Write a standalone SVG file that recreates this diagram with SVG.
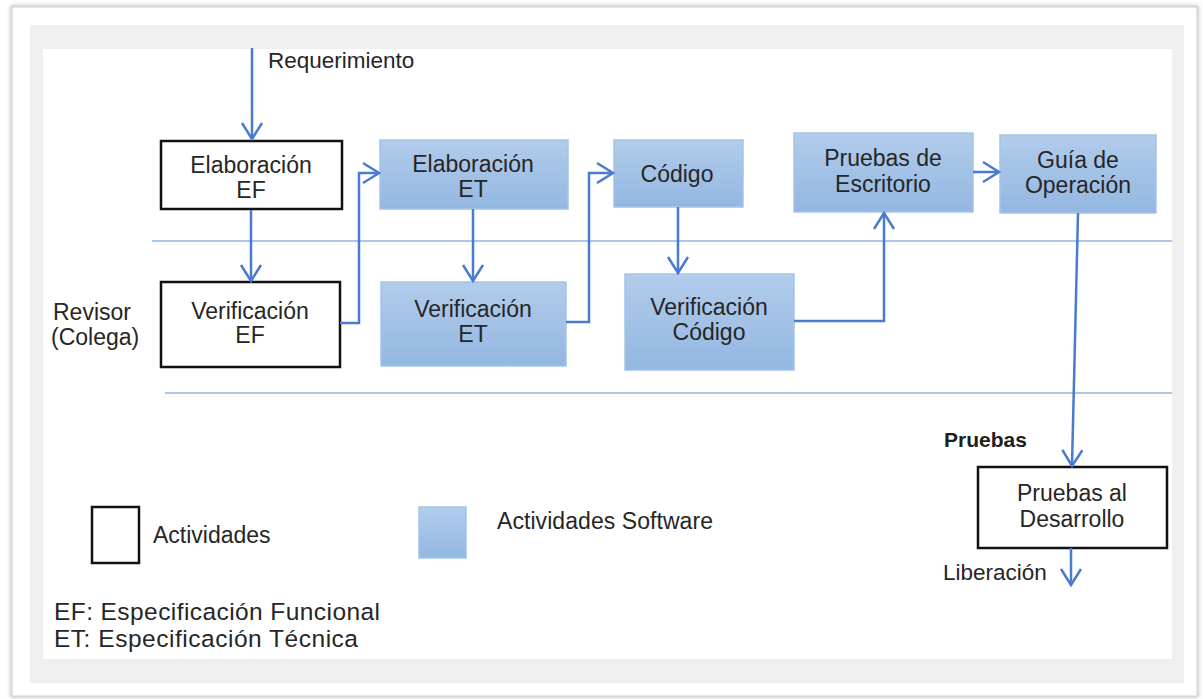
<svg xmlns="http://www.w3.org/2000/svg" width="1203" height="699" viewBox="0 0 1203 699">
<defs>
<linearGradient id="blueGrad" x1="0" y1="0" x2="0" y2="1">
<stop offset="0" stop-color="#b2cceb"/>
<stop offset="1" stop-color="#93b7e1"/>
</linearGradient>
<marker id="arr" viewBox="-18 -12 20 24" refX="0" refY="0" markerWidth="20" markerHeight="24" markerUnits="userSpaceOnUse" orient="auto">
<path d="M-16,-10 L0,0 L-16,10" fill="none" stroke="#4a7bd0" stroke-width="2.5" stroke-linejoin="miter"/>
</marker>
<filter id="sh" x="-5%" y="-5%" width="110%" height="110%">
<feGaussianBlur stdDeviation="2"/>
</filter>
</defs>
<style>
text{font-family:"Liberation Sans",Arial,sans-serif;fill:#262626;font-size:23px}
.c{text-anchor:middle}
.blk{fill:#ffffff;stroke:#111111;stroke-width:2.5}
.blue{fill:url(#blueGrad);stroke:#a5c3e8;stroke-width:1.5}
.con{fill:none;stroke:#4a7bd0;stroke-width:2.5;marker-end:url(#arr)}
.sep{stroke:#92b5e2;stroke-width:1.5}
.leg{font-size:24.5px}
</style>
<!-- frame -->
<rect x="0" y="0" width="1203" height="699" fill="#ffffff"/>
<rect x="12" y="7" width="1185" height="689" fill="none" stroke="#9a9a9a" stroke-width="2" filter="url(#sh)"/>
<rect x="12" y="7" width="1185" height="689" fill="#ffffff" stroke="#d0d0d0" stroke-width="1"/>
<rect x="30" y="25" width="1154" height="658" fill="#efefef"/>
<rect x="43" y="49" width="1129" height="610" fill="#ffffff"/>
<!-- separators -->
<line class="sep" x1="152" y1="241" x2="1172" y2="241"/>
<line class="sep" x1="165" y1="393" x2="1172" y2="393"/>
<!-- labels -->
<text x="268" y="68" style="font-size:22.5px">Requerimiento</text>
<text x="53" y="320">Revisor</text>
<text x="51" y="345">(Colega)</text>
<text x="944" y="447" style="font-size:21px;font-weight:bold;fill:#1e1e1e">Pruebas</text>
<text x="943" y="580" style="font-size:22.5px">Liberación</text>
<!-- nodes -->
<g id="elab-ef">
<rect class="blk" x="161" y="141" width="181" height="68"/>
<text class="c" x="251" y="173">Elaboración</text>
<text class="c" x="251" y="198">EF</text>
</g>
<g id="verif-ef">
<rect class="blk" x="161" y="282" width="179" height="85"/>
<text class="c" x="250" y="319">Verificación</text>
<text class="c" x="250" y="343">EF</text>
</g>
<g id="elab-et">
<rect class="blue" x="380" y="140" width="188" height="69"/>
<text class="c" x="473" y="172">Elaboración</text>
<text class="c" x="473" y="197">ET</text>
</g>
<g id="verif-et">
<rect class="blue" x="381" y="282" width="185" height="84"/>
<text class="c" x="473" y="317">Verificación</text>
<text class="c" x="473" y="342">ET</text>
</g>
<g id="codigo">
<rect class="blue" x="614" y="140" width="129" height="67"/>
<text class="c" x="677" y="182">Código</text>
</g>
<g id="verif-codigo">
<rect class="blue" x="625" y="274" width="169" height="96"/>
<text class="c" x="709" y="315">Verificación</text>
<text class="c" x="709" y="340">Código</text>
</g>
<g id="pruebas-escritorio">
<rect class="blue" x="794" y="133" width="179" height="79"/>
<text class="c" x="883" y="166">Pruebas de</text>
<text class="c" x="883" y="192">Escritorio</text>
</g>
<g id="guia-operacion">
<rect class="blue" x="1000" y="135" width="156" height="78"/>
<text class="c" x="1078" y="168">Guía de</text>
<text class="c" x="1078" y="193">Operación</text>
</g>
<g id="pruebas-desarrollo">
<rect class="blk" x="978" y="467" width="189" height="81"/>
<text class="c" x="1072" y="501">Pruebas al</text>
<text class="c" x="1072" y="527">Desarrollo</text>
</g>
<!-- connectors -->
<g id="connectors">
<path class="con" d="M252,48 V139"/>
<path class="con" d="M251,210 V281"/>
<path class="con" d="M340,323 H359 V173 H379"/>
<path class="con" d="M473,209 V281"/>
<path class="con" d="M566,322 H589 V173 H613"/>
<path class="con" d="M678,207 V273"/>
<path class="con" d="M794,321 H884 V213"/>
<path class="con" d="M973,172 H999"/>
<path class="con" d="M1078,213 L1072,466"/>
<path class="con" d="M1071,548 V585"/>
</g>
<!-- legend -->
<g id="legend">
<rect class="blk" x="92" y="507" width="47" height="56"/>
<text x="153" y="543">Actividades</text>
<rect class="blue" x="419" y="507" width="47" height="51"/>
<text x="497" y="529" textLength="216">Actividades Software</text>
<text class="leg" x="54" y="620" textLength="326">EF: Especificación Funcional</text>
<text class="leg" x="54" y="647" textLength="304">ET: Especificación Técnica</text>
</g>
</svg>
